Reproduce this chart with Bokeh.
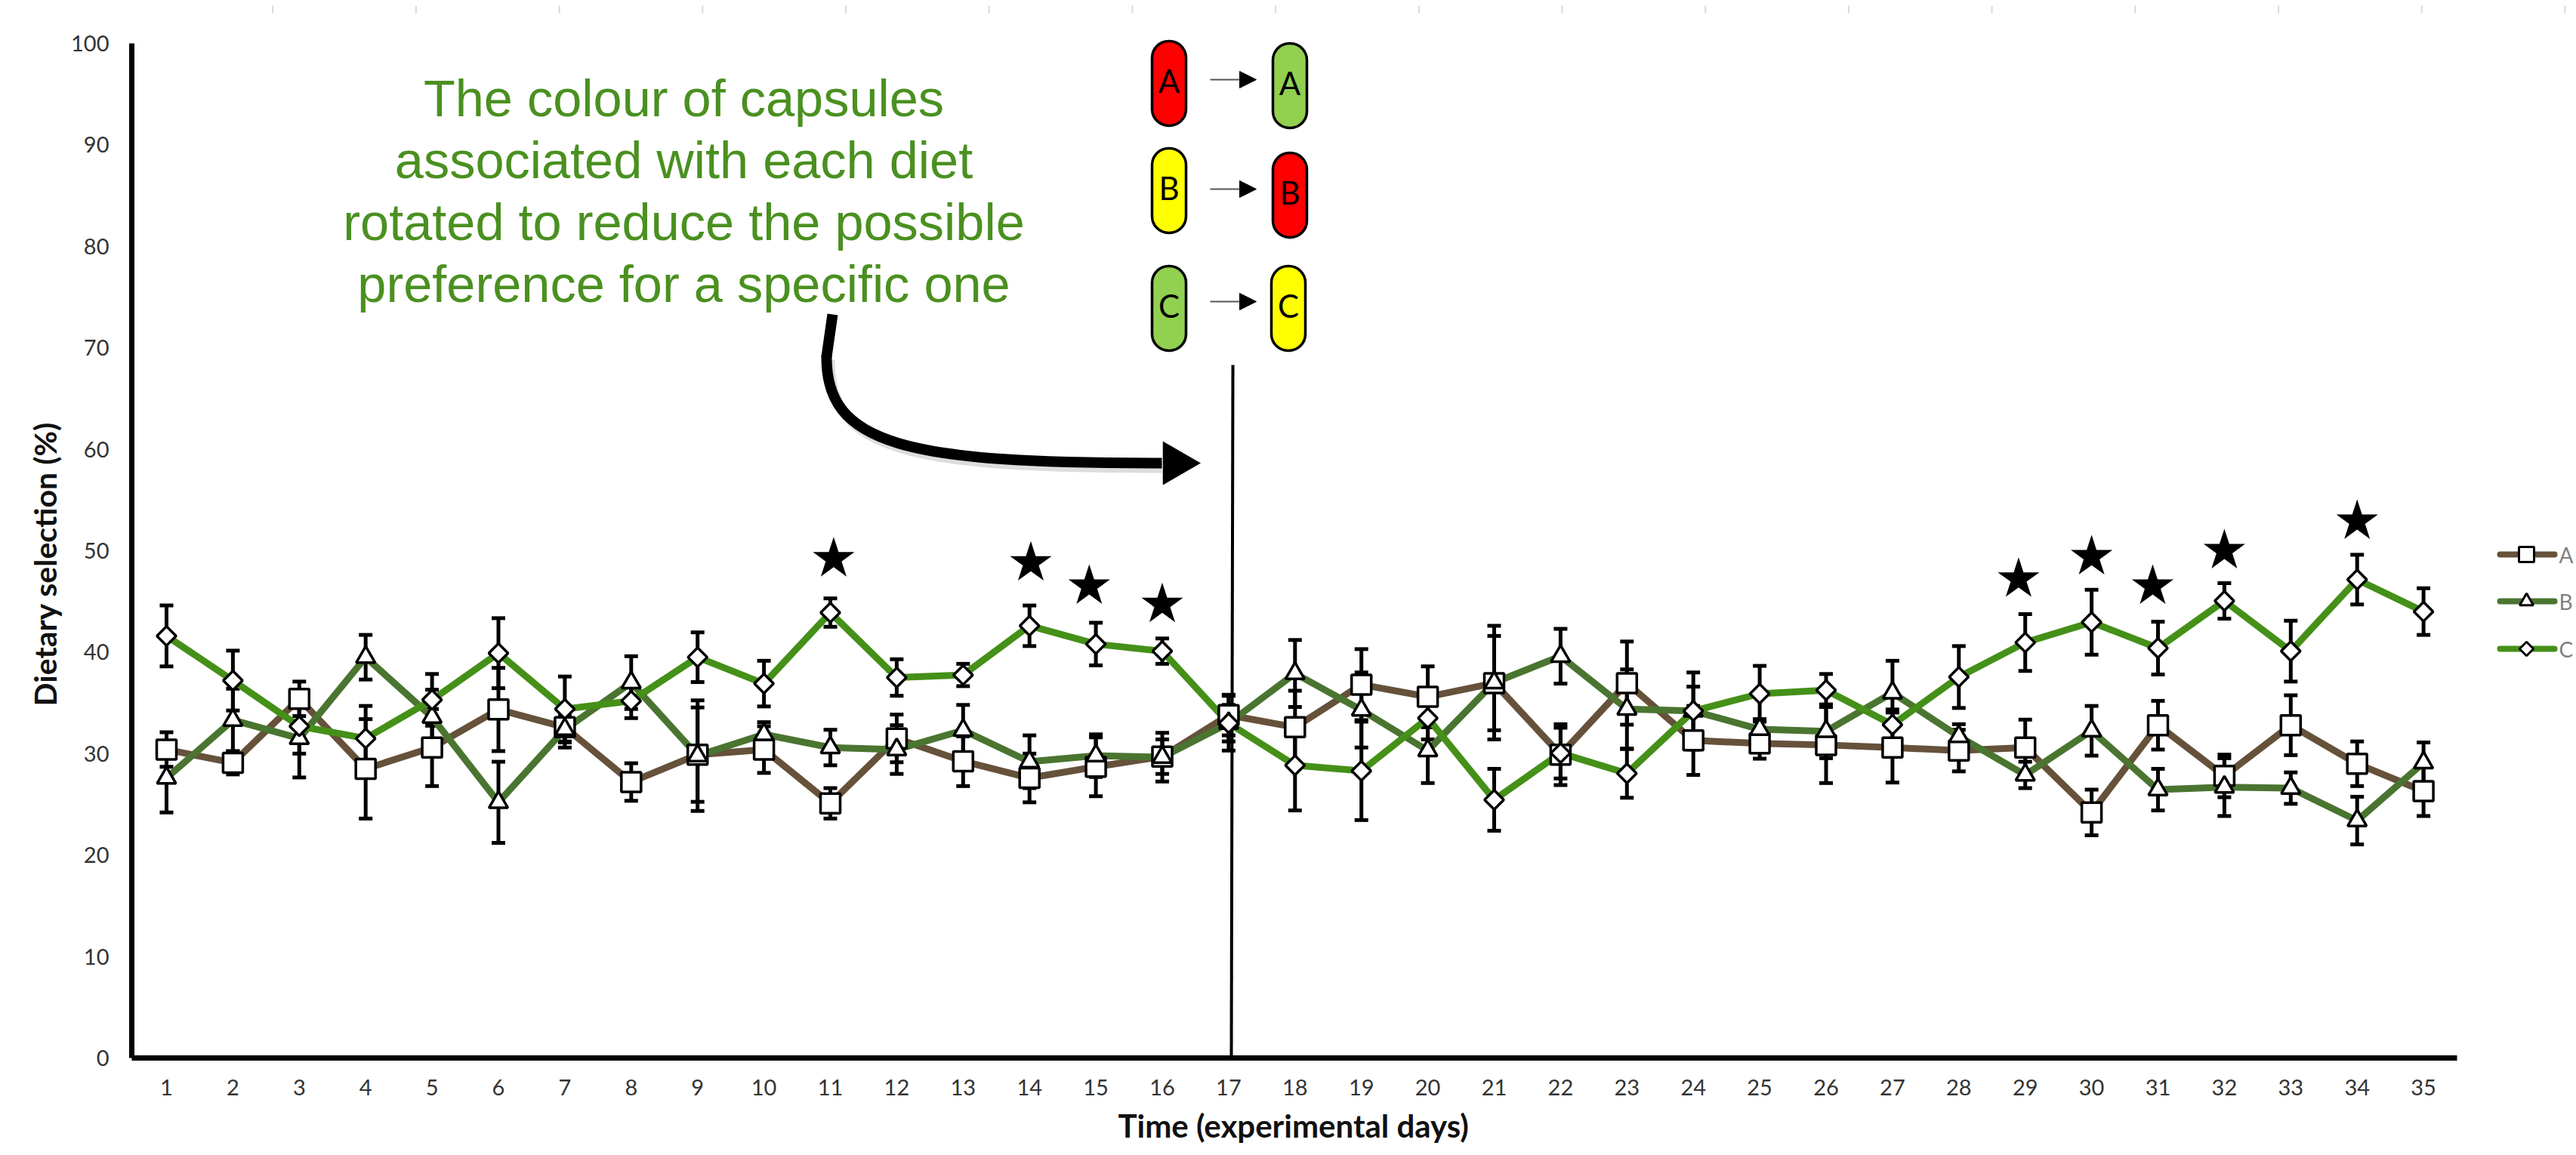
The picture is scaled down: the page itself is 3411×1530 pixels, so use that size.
import math
from bokeh.plotting import figure
from bokeh.embed import file_html
from bokeh.resources import INLINE
from bokeh.core.properties import value
from bokeh.models import Whisker, ColumnDataSource, Arrow, NormalHead, FixedTicker, Title

days = list(range(1, 36))
A = [30.4,29.1,35.4,28.5,30.6,34.35,32.6,27.2,29.9,30.4,25.1,31.5,29.25,27.6,28.7,29.7,33.8,32.6,36.8,35.6,36.95,29.9,36.95,31.3,31.0,30.85,30.6,30.3,30.6,24.2,32.8,27.8,32.8,29.0,26.3]
A_err = [1.7,1.15,1.7,4.9,3.8,4.1,2.0,1.85,4.65,2.3,1.5,2.35,2.45,2.4,2.9,1.7,2.0,3.6,3.5,3.0,4.65,3.0,4.1,3.4,1.5,3.75,3.45,2.05,2.75,2.25,2.4,2.1,2.95,2.2,2.45]
B = [27.6,33.3,31.5,39.5,33.6,25.2,32.4,37.0,29.8,31.9,30.6,30.4,32.3,29.2,29.8,29.65,33.0,37.9,34.3,30.3,37.0,39.6,34.4,34.2,32.4,32.2,36.0,31.7,27.9,32.25,26.45,26.7,26.6,23.4,29.1]
B_err = [3.4,3.1,3.85,2.2,2.7,4.0,1.3,2.6,5.45,1.2,1.75,2.4,2.5,2.6,2.1,2.4,2.7,3.3,3.7,3.2,5.6,2.7,3.9,3.8,1.0,2.65,3.15,1.2,1.3,2.45,2.05,2.85,1.55,2.35,2.0]
C = [41.6,37.2,32.7,31.5,35.3,39.9,34.4,35.2,39.5,36.9,43.9,37.5,37.75,42.6,40.8,40.1,33.0,28.85,28.3,33.5,25.45,30.05,28.05,34.2,35.9,36.25,32.85,37.55,40.95,42.95,40.4,45.05,40.1,47.15,44.0]
C_err = [3.0,2.95,2.7,3.2,2.55,3.45,3.2,1.7,2.45,2.25,1.4,1.8,1.1,2.0,2.1,1.25,1.8,4.45,4.85,2.1,3.05,2.5,2.4,2.4,2.75,1.6,1.5,3.05,2.8,3.2,2.6,1.75,3.0,2.45,2.3]
star_days = [11.05,14.02,14.9,16.0,28.9,30.0,30.92,32.0,34.0]
star_vals = [49.2,48.8,46.5,44.7,47.2,49.4,46.5,50.0,52.9]
y_ticks = list(range(0,101,10))
note_lines = ["The colour of capsules","associated with each diet","rotated to reduce the possible","preference for a specific one"]
legend_names = ["A","B","C"]
COL_A, COL_B, COL_C = "#66513A", "#4A7530", "#459018"
TEXT_GREEN = "#4A9020"
RED, YEL, GRN = "#FF0000", "#FFFF00", "#92D050"

W, H = 3411, 1530
L, BOT = 174, 129
PX0, PXD = 220.0, 87.9
PY0, PYD = 1401.0, 13.44
def X(px): return 1 + (px - PX0) / PXD
def Y(py): return (PY0 - py) / PYD

p = figure(width=W, height=H, output_backend="svg", toolbar_location=None,
           x_range=(X(L), X(W)), y_range=(0, Y(0)),
           min_border_left=L, min_border_right=0, min_border_top=0, min_border_bottom=BOT,
           background_fill_color="white", border_fill_color="white")
p.outline_line_color = None
p.grid.visible = False

p.xaxis.ticker = FixedTicker(ticks=days)
p.yaxis.ticker = FixedTicker(ticks=y_ticks)
p.xaxis.bounds = (X(L), X(3253))
p.yaxis.bounds = (0, 100)
for ax in (p.xaxis[0], p.yaxis[0]):
    ax.axis_line_color = "black"
    ax.axis_line_width = 7
    ax.major_tick_line_color = None
    ax.minor_tick_line_color = None
    ax.major_tick_out = 0
    ax.major_label_text_font = "Lato"
    ax.major_label_text_font_size = "29px"
    ax.major_label_text_color = "#333333"
p.xaxis.major_label_standoff = 28
p.yaxis.major_label_standoff = 30

p.add_layout(Title(text="Time (experimental days)", align="left", offset=1306, standoff=20,
                   text_font="Lato", text_font_style="bold", text_font_size="42px", text_color="#111111"), "below")
p.add_layout(Title(text="Dietary selection (%)", align="left", offset=466, standoff=15,
                   text_font="Lato", text_font_style="bold", text_font_size="41px", text_color="#111111"), "left")

# faint ruler ticks along the top edge
ruler = [171 + 189.7*k for k in range(18)]
p.segment([X(r) for r in ruler], [Y(7)]*18, [X(r) for r in ruler], [Y(17)]*18, line_color="#D9D9D9", line_width=2)

# vertical divider
p.segment([X(1630)], [0], [X(1632)], [Y(483)], line_color="black", line_width=4)

def whisk(v, e):
    src = ColumnDataSource(dict(x=days, u=[a+b for a,b in zip(v,e)], l=[a-b for a,b in zip(v,e)]))
    w = Whisker(base="x", upper="u", lower="l", source=src, line_color="black", line_width=5)
    w.upper_head.size = 18; w.lower_head.size = 18
    w.upper_head.line_width = 5; w.lower_head.line_width = 5
    w.upper_head.line_color = "black"; w.lower_head.line_color = "black"
    p.add_layout(w)

for v, e in ((A, A_err), (B, B_err), (C, C_err)):
    whisk(v, e)

p.line(days, A, line_color=COL_A, line_width=9, line_join="round")
p.line(days, B, line_color=COL_B, line_width=9, line_join="round")
p.line(days, C, line_color=COL_C, line_width=9, line_join="round")

p.scatter(days, A, marker="square", size=26, fill_color="white", line_color="black", line_width=3.5)
p.scatter(days, B, marker="triangle", size=25, fill_color="white", line_color="black", line_width=3.5)
p.scatter(days, C, marker="square", angle=math.pi/4, size=18, fill_color="white", line_color="black", line_width=3.5)

p.scatter(star_days, star_vals, marker="star", size=58, fill_color="black", line_color="black", line_width=0)

# note text
for i, t in enumerate(note_lines):
    p.text([X(905)], [Y(130 + 82*i)], text=[t], text_align="center", text_baseline="middle",
           text_font=value("Liberation Sans"), text_font_size="68.5px", text_color=TEXT_GREEN)

# curved arrow with its faint shadow
p.bezier(x0=[X(1098)], y0=[Y(476)], x1=[X(1538)], y1=[Y(619)],
         cx0=[X(1096)], cy0=[Y(596)], cx1=[X(1204)], cy1=[Y(619)], line_color="#777777", line_alpha=0.25, line_width=14)
p.line([X(1102), X(1094)], [Y(416), Y(472)], line_color="black", line_width=14)
p.bezier(x0=[X(1094)], y0=[Y(470)], x1=[X(1538)], y1=[Y(613)],
         cx0=[X(1092)], cy0=[Y(590)], cx1=[X(1200)], cy1=[Y(613)], line_color="black", line_width=14)
p.scatter([X(1556)], [Y(613)], marker="triangle", size=58, angle=-math.pi/2, fill_color="black", line_color=None)

# capsules
caps = [(1525,54,RED,"A"),(1685,57,GRN,"A"),(1525,196,YEL,"B"),(1685,202,RED,"B"),(1525,352,GRN,"C"),(1683,352,YEL,"C")]
for cx, cy, col, lab in caps:
    p.quad(left=[X(cx)], right=[X(cx+45)], top=[Y(cy)], bottom=[Y(cy+112)], fill_color=col, line_color="black",
           line_width=3.5, border_radius=22)
    p.text([X(cx+22.5)], [Y(cy+52)], text=[lab], text_align="center", text_baseline="middle",
           text_font=value("Lato"), text_font_size="42px", text_color="black")
for ya in (105, 250, 399):
    p.add_layout(Arrow(end=NormalHead(size=22, fill_color="black", line_color="black"),
                       x_start=X(1602), y_start=Y(ya), x_end=X(1663), y_end=Y(ya), line_color="#555555", line_width=2))

# legend
leg_y = [734, 796, 859]
leg_col = [COL_A, COL_B, COL_C]
for n, yy, col in zip(legend_names, leg_y, leg_col):
    p.line([X(3310), X(3382)], [Y(yy), Y(yy)], line_color=col, line_width=8, line_cap="round")
    p.text([X(3388)], [Y(yy)], text=[n], text_align="left", text_baseline="middle",
           text_font=value("Lato"), text_font_size="28px", text_color="#7F7F7F")
p.scatter([X(3345)], [Y(734)], marker="square", size=20, fill_color="white", line_color="black", line_width=3)
p.scatter([X(3345)], [Y(796)], marker="triangle", size=18, fill_color="white", line_color="black", line_width=3)
p.scatter([X(3345)], [Y(859)], marker="square", angle=math.pi/4, size=13, fill_color="white", line_color="black", line_width=3)

open("out.html", "w").write(file_html(p, INLINE))
